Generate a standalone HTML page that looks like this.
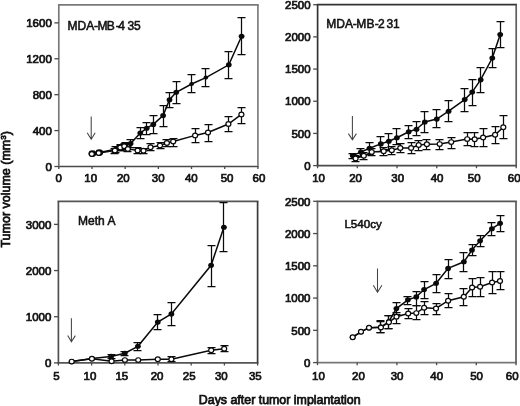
<!DOCTYPE html><html><head><meta charset="utf-8"><style>html,body{margin:0;padding:0;background:#fff;}svg{display:block;}text{font-family:"Liberation Sans", sans-serif;stroke:#111;stroke-width:0.75px;paint-order:stroke;}svg{will-change:transform;}</style></head><body>
<svg width="520" height="406" viewBox="0 0 520 406">
<rect width="520" height="406" fill="#fff"/>
<line x1="57.949999999999996" y1="4.9" x2="258.75" y2="4.9" stroke="#7a7a7a" stroke-width="1.7"/>
<line x1="57.949999999999996" y1="166.5" x2="258.75" y2="166.5" stroke="#4a4a4a" stroke-width="1.7"/>
<line x1="58.8" y1="4.9" x2="58.8" y2="166.5" stroke="#7a7a7a" stroke-width="1.7"/>
<line x1="257.9" y1="4.9" x2="257.9" y2="166.5" stroke="#7e7e7e" stroke-width="1.7"/>
<line x1="58.80" y1="166.5" x2="58.80" y2="169.10" stroke="#4a4a4a" stroke-width="1.3"/>
<text transform="translate(58.70,182.1) scale(0.958)" font-size="12" text-anchor="middle" fill="#111">0</text>
<line x1="91.98" y1="166.5" x2="91.98" y2="169.10" stroke="#4a4a4a" stroke-width="1.3"/>
<text transform="translate(90.68,182.1) scale(0.958)" font-size="12" text-anchor="middle" fill="#111">10</text>
<line x1="125.17" y1="166.5" x2="125.17" y2="169.10" stroke="#4a4a4a" stroke-width="1.3"/>
<text transform="translate(123.27,182.1) scale(0.958)" font-size="12" text-anchor="middle" fill="#111">20</text>
<line x1="158.35" y1="166.5" x2="158.35" y2="169.10" stroke="#4a4a4a" stroke-width="1.3"/>
<text transform="translate(158.15,182.1) scale(0.958)" font-size="12" text-anchor="middle" fill="#111">30</text>
<line x1="191.53" y1="166.5" x2="191.53" y2="169.10" stroke="#4a4a4a" stroke-width="1.3"/>
<text transform="translate(191.33,182.1) scale(0.958)" font-size="12" text-anchor="middle" fill="#111">40</text>
<line x1="224.72" y1="166.5" x2="224.72" y2="169.10" stroke="#4a4a4a" stroke-width="1.3"/>
<text transform="translate(227.02,182.1) scale(0.958)" font-size="12" text-anchor="middle" fill="#111">50</text>
<line x1="257.90" y1="166.5" x2="257.90" y2="169.10" stroke="#4a4a4a" stroke-width="1.3"/>
<text transform="translate(259.00,182.1) scale(0.958)" font-size="12" text-anchor="middle" fill="#111">60</text>
<line x1="54.40" y1="166.50" x2="58.8" y2="166.50" stroke="#4a4a4a" stroke-width="1.3"/>
<text transform="translate(51.80,170.70) scale(0.958)" font-size="12" text-anchor="end" fill="#111">0</text>
<line x1="54.40" y1="130.59" x2="58.8" y2="130.59" stroke="#4a4a4a" stroke-width="1.3"/>
<text transform="translate(51.80,134.79) scale(0.958)" font-size="12" text-anchor="end" fill="#111">400</text>
<line x1="54.40" y1="94.68" x2="58.8" y2="94.68" stroke="#4a4a4a" stroke-width="1.3"/>
<text transform="translate(51.80,98.88) scale(0.958)" font-size="12" text-anchor="end" fill="#111">800</text>
<line x1="54.40" y1="58.77" x2="58.8" y2="58.77" stroke="#4a4a4a" stroke-width="1.3"/>
<text transform="translate(51.80,62.97) scale(0.958)" font-size="12" text-anchor="end" fill="#111">1200</text>
<line x1="54.40" y1="22.86" x2="58.8" y2="22.86" stroke="#4a4a4a" stroke-width="1.3"/>
<text transform="translate(51.80,27.06) scale(0.958)" font-size="12" text-anchor="end" fill="#111">1600</text>
<text style="stroke-width:0.55px" x="67.6 77.6 86.3 94.0 97.4 106.8 115.7 118.3 127.4 134.0" y="29.6" font-size="12" fill="#111">MDA-MB-435</text>
<line x1="316.75" y1="4.7" x2="517.0500000000001" y2="4.7" stroke="#333333" stroke-width="1.7"/>
<line x1="316.75" y1="165.6" x2="517.0500000000001" y2="165.6" stroke="#4a4a4a" stroke-width="1.7"/>
<line x1="317.6" y1="4.7" x2="317.6" y2="165.6" stroke="#333333" stroke-width="1.7"/>
<line x1="516.2" y1="4.7" x2="516.2" y2="165.6" stroke="#5e5e5e" stroke-width="1.7"/>
<line x1="317.60" y1="165.6" x2="317.60" y2="168.20" stroke="#4a4a4a" stroke-width="1.3"/>
<text transform="translate(318.60,182.1) scale(0.958)" font-size="12" text-anchor="middle" fill="#111">10</text>
<line x1="357.32" y1="165.6" x2="357.32" y2="168.20" stroke="#4a4a4a" stroke-width="1.3"/>
<text transform="translate(355.52,182.1) scale(0.958)" font-size="12" text-anchor="middle" fill="#111">20</text>
<line x1="397.04" y1="165.6" x2="397.04" y2="168.20" stroke="#4a4a4a" stroke-width="1.3"/>
<text transform="translate(397.64,182.1) scale(0.958)" font-size="12" text-anchor="middle" fill="#111">30</text>
<line x1="436.76" y1="165.6" x2="436.76" y2="168.20" stroke="#4a4a4a" stroke-width="1.3"/>
<text transform="translate(437.06,182.1) scale(0.958)" font-size="12" text-anchor="middle" fill="#111">40</text>
<line x1="476.48" y1="165.6" x2="476.48" y2="168.20" stroke="#4a4a4a" stroke-width="1.3"/>
<text transform="translate(474.18,182.1) scale(0.958)" font-size="12" text-anchor="middle" fill="#111">50</text>
<line x1="516.20" y1="165.6" x2="516.20" y2="168.20" stroke="#4a4a4a" stroke-width="1.3"/>
<text transform="translate(514.20,182.1) scale(0.958)" font-size="12" text-anchor="middle" fill="#111">60</text>
<line x1="313.20" y1="165.60" x2="317.6" y2="165.60" stroke="#4a4a4a" stroke-width="1.3"/>
<text transform="translate(310.60,169.80) scale(0.958)" font-size="12" text-anchor="end" fill="#111">0</text>
<line x1="313.20" y1="133.42" x2="317.6" y2="133.42" stroke="#4a4a4a" stroke-width="1.3"/>
<text transform="translate(310.60,137.62) scale(0.958)" font-size="12" text-anchor="end" fill="#111">500</text>
<line x1="313.20" y1="101.24" x2="317.6" y2="101.24" stroke="#4a4a4a" stroke-width="1.3"/>
<text transform="translate(310.60,105.44) scale(0.958)" font-size="12" text-anchor="end" fill="#111">1000</text>
<line x1="313.20" y1="69.06" x2="317.6" y2="69.06" stroke="#4a4a4a" stroke-width="1.3"/>
<text transform="translate(310.60,73.26) scale(0.958)" font-size="12" text-anchor="end" fill="#111">1500</text>
<line x1="313.20" y1="36.88" x2="317.6" y2="36.88" stroke="#4a4a4a" stroke-width="1.3"/>
<text transform="translate(310.60,41.08) scale(0.958)" font-size="12" text-anchor="end" fill="#111">2000</text>
<line x1="313.20" y1="4.70" x2="317.6" y2="4.70" stroke="#4a4a4a" stroke-width="1.3"/>
<text transform="translate(310.60,8.90) scale(0.958)" font-size="12" text-anchor="end" fill="#111">2500</text>
<text style="stroke-width:0.55px" x="326.3 336.3 345.0 352.8 356.2 366.4 374.8 378.0 386.6 392.9" y="28" font-size="12" fill="#111">MDA-MB-231</text>
<line x1="57.55" y1="201.3" x2="258.45000000000005" y2="201.3" stroke="#555555" stroke-width="1.7"/>
<line x1="57.55" y1="362.9" x2="258.45000000000005" y2="362.9" stroke="#555555" stroke-width="1.7"/>
<line x1="58.4" y1="201.3" x2="58.4" y2="362.9" stroke="#505050" stroke-width="1.7"/>
<line x1="257.6" y1="201.3" x2="257.6" y2="362.9" stroke="#3a3a3a" stroke-width="1.7"/>
<line x1="58.40" y1="362.9" x2="58.40" y2="365.50" stroke="#4a4a4a" stroke-width="1.3"/>
<text transform="translate(56.40,379.7) scale(0.958)" font-size="12" text-anchor="middle" fill="#111">5</text>
<line x1="91.60" y1="362.9" x2="91.60" y2="365.50" stroke="#4a4a4a" stroke-width="1.3"/>
<text transform="translate(89.90,379.7) scale(0.958)" font-size="12" text-anchor="middle" fill="#111">10</text>
<line x1="124.80" y1="362.9" x2="124.80" y2="365.50" stroke="#4a4a4a" stroke-width="1.3"/>
<text transform="translate(121.80,379.7) scale(0.958)" font-size="12" text-anchor="middle" fill="#111">15</text>
<line x1="158.00" y1="362.9" x2="158.00" y2="365.50" stroke="#4a4a4a" stroke-width="1.3"/>
<text transform="translate(157.10,379.7) scale(0.958)" font-size="12" text-anchor="middle" fill="#111">20</text>
<line x1="191.20" y1="362.9" x2="191.20" y2="365.50" stroke="#4a4a4a" stroke-width="1.3"/>
<text transform="translate(189.20,379.7) scale(0.958)" font-size="12" text-anchor="middle" fill="#111">25</text>
<line x1="224.40" y1="362.9" x2="224.40" y2="365.50" stroke="#4a4a4a" stroke-width="1.3"/>
<text transform="translate(221.30,379.7) scale(0.958)" font-size="12" text-anchor="middle" fill="#111">30</text>
<line x1="257.60" y1="362.9" x2="257.60" y2="365.50" stroke="#4a4a4a" stroke-width="1.3"/>
<text transform="translate(255.30,379.7) scale(0.958)" font-size="12" text-anchor="middle" fill="#111">35</text>
<line x1="54.00" y1="362.90" x2="58.4" y2="362.90" stroke="#4a4a4a" stroke-width="1.3"/>
<text transform="translate(51.40,367.10) scale(0.958)" font-size="12" text-anchor="end" fill="#111">0</text>
<line x1="54.00" y1="316.73" x2="58.4" y2="316.73" stroke="#4a4a4a" stroke-width="1.3"/>
<text transform="translate(51.40,320.93) scale(0.958)" font-size="12" text-anchor="end" fill="#111">1000</text>
<line x1="54.00" y1="270.56" x2="58.4" y2="270.56" stroke="#4a4a4a" stroke-width="1.3"/>
<text transform="translate(51.40,274.76) scale(0.958)" font-size="12" text-anchor="end" fill="#111">2000</text>
<line x1="54.00" y1="224.39" x2="58.4" y2="224.39" stroke="#4a4a4a" stroke-width="1.3"/>
<text transform="translate(51.40,228.59) scale(0.958)" font-size="12" text-anchor="end" fill="#111">3000</text>
<text style="stroke-width:0.55px" x="78.1" y="225" font-size="12" fill="#111">Meth A</text>
<line x1="316.65" y1="201.3" x2="516.85" y2="201.3" stroke="#555555" stroke-width="1.7"/>
<line x1="316.65" y1="362.6" x2="516.85" y2="362.6" stroke="#777777" stroke-width="1.7"/>
<line x1="317.5" y1="201.3" x2="317.5" y2="362.6" stroke="#666666" stroke-width="1.7"/>
<line x1="516.0" y1="201.3" x2="516.0" y2="362.6" stroke="#5a5a5a" stroke-width="1.7"/>
<line x1="317.50" y1="362.6" x2="317.50" y2="365.20" stroke="#4a4a4a" stroke-width="1.3"/>
<text transform="translate(318.50,379.7) scale(0.958)" font-size="12" text-anchor="middle" fill="#111">10</text>
<line x1="357.20" y1="362.6" x2="357.20" y2="365.20" stroke="#4a4a4a" stroke-width="1.3"/>
<text transform="translate(358.50,379.7) scale(0.958)" font-size="12" text-anchor="middle" fill="#111">20</text>
<line x1="396.90" y1="362.6" x2="396.90" y2="365.20" stroke="#4a4a4a" stroke-width="1.3"/>
<text transform="translate(397.10,379.7) scale(0.958)" font-size="12" text-anchor="middle" fill="#111">30</text>
<line x1="436.60" y1="362.6" x2="436.60" y2="365.20" stroke="#4a4a4a" stroke-width="1.3"/>
<text transform="translate(436.70,379.7) scale(0.958)" font-size="12" text-anchor="middle" fill="#111">40</text>
<line x1="476.30" y1="362.6" x2="476.30" y2="365.20" stroke="#4a4a4a" stroke-width="1.3"/>
<text transform="translate(476.60,379.7) scale(0.958)" font-size="12" text-anchor="middle" fill="#111">50</text>
<line x1="516.00" y1="362.6" x2="516.00" y2="365.20" stroke="#4a4a4a" stroke-width="1.3"/>
<text transform="translate(512.20,379.7) scale(0.958)" font-size="12" text-anchor="middle" fill="#111">60</text>
<line x1="313.10" y1="362.60" x2="317.5" y2="362.60" stroke="#4a4a4a" stroke-width="1.3"/>
<text transform="translate(310.50,366.80) scale(0.958)" font-size="12" text-anchor="end" fill="#111">0</text>
<line x1="313.10" y1="330.34" x2="317.5" y2="330.34" stroke="#4a4a4a" stroke-width="1.3"/>
<text transform="translate(310.50,334.54) scale(0.958)" font-size="12" text-anchor="end" fill="#111">500</text>
<line x1="313.10" y1="298.08" x2="317.5" y2="298.08" stroke="#4a4a4a" stroke-width="1.3"/>
<text transform="translate(310.50,302.28) scale(0.958)" font-size="12" text-anchor="end" fill="#111">1000</text>
<line x1="313.10" y1="265.82" x2="317.5" y2="265.82" stroke="#4a4a4a" stroke-width="1.3"/>
<text transform="translate(310.50,270.02) scale(0.958)" font-size="12" text-anchor="end" fill="#111">1500</text>
<line x1="313.10" y1="233.56" x2="317.5" y2="233.56" stroke="#4a4a4a" stroke-width="1.3"/>
<text transform="translate(310.50,237.76) scale(0.958)" font-size="12" text-anchor="end" fill="#111">2000</text>
<line x1="313.10" y1="201.30" x2="317.5" y2="201.30" stroke="#4a4a4a" stroke-width="1.3"/>
<text transform="translate(310.50,205.50) scale(0.958)" font-size="12" text-anchor="end" fill="#111">2500</text>
<text style="stroke-width:0.55px" x="344.4" y="227.7" font-size="11.6" fill="#111">L540cy</text>
<polyline fill="none" stroke="#0a0a0a" stroke-width="1.5" points="92.4,153.6 99.3,152.6 115.8,149.3 120.8,147.0 125.2,145.8 130.6,143.5 140.3,133.1 146.7,128.2 153.3,124.4 163.1,115.5 169.5,99.7 176.2,92.3 191.6,84.0 205.9,77.6 228.8,64.8 241.6,36.2"/>
<polyline fill="none" stroke="#0a0a0a" stroke-width="1.5" points="91.8,154.0 98.7,153.0 114.9,150.5 120.3,147.6 124.3,146.3 127.9,148.9 137.6,150.5 143.5,150.7 150.5,147.2 160.0,145.5 166.9,143.0 173.2,141.5 195.1,135.4 208.0,132.5 228.4,124.0 241.4,114.4"/>
<ellipse cx="92.4" cy="153.6" rx="3.9" ry="3.4" fill="#0a0a0a"/>
<ellipse cx="99.3" cy="152.6" rx="3.9" ry="3.4" fill="#0a0a0a"/>
<path d="M115.5 146.5V152.5M111.5 146.5H119.5M111.5 152.5H119.5" stroke="#0a0a0a" stroke-width="1.25" fill="none"/>
<path d="M120.5 144.5V150.5M116.5 144.5H124.5M116.5 150.5H124.5" stroke="#0a0a0a" stroke-width="1.25" fill="none"/>
<path d="M125.5 142.5V149.5M121.5 142.5H129.5M121.5 149.5H129.5" stroke="#0a0a0a" stroke-width="1.25" fill="none"/>
<path d="M130.5 139.5V147.5M126.5 139.5H134.5M126.5 147.5H134.5" stroke="#0a0a0a" stroke-width="1.25" fill="none"/>
<path d="M140.5 127.5V138.5M136.5 127.5H144.5M136.5 138.5H144.5" stroke="#0a0a0a" stroke-width="1.25" fill="none"/>
<path d="M146.5 122.5V134.5M142.5 122.5H150.5M142.5 134.5H150.5" stroke="#0a0a0a" stroke-width="1.25" fill="none"/>
<path d="M153.5 115.5V133.5M149.5 115.5H157.5M149.5 133.5H157.5" stroke="#0a0a0a" stroke-width="1.25" fill="none"/>
<path d="M163.5 105.5V126.5M159.5 105.5H167.5M159.5 126.5H167.5" stroke="#0a0a0a" stroke-width="1.25" fill="none"/>
<path d="M169.5 92.5V107.5M165.5 92.5H173.5M165.5 107.5H173.5" stroke="#0a0a0a" stroke-width="1.25" fill="none"/>
<path d="M176.5 81.5V103.5M172.5 81.5H180.5M172.5 103.5H180.5" stroke="#0a0a0a" stroke-width="1.25" fill="none"/>
<path d="M191.5 74.5V92.5M187.5 74.5H195.5M187.5 92.5H195.5" stroke="#0a0a0a" stroke-width="1.25" fill="none"/>
<path d="M205.5 68.5V86.5M201.5 68.5H209.5M201.5 86.5H209.5" stroke="#0a0a0a" stroke-width="1.25" fill="none"/>
<path d="M228.5 51.5V78.5M224.5 51.5H232.5M224.5 78.5H232.5" stroke="#0a0a0a" stroke-width="1.25" fill="none"/>
<path d="M241.5 17.5V54.5M237.5 17.5H245.5M237.5 54.5H245.5" stroke="#0a0a0a" stroke-width="1.25" fill="none"/>
<path d="M114.5 148.5V153.5M110.5 148.5H118.5M110.5 153.5H118.5" stroke="#0a0a0a" stroke-width="1.25" fill="none"/>
<path d="M120.5 145.5V150.5M116.5 145.5H124.5M116.5 150.5H124.5" stroke="#0a0a0a" stroke-width="1.25" fill="none"/>
<path d="M124.5 143.5V149.5M120.5 143.5H128.5M120.5 149.5H128.5" stroke="#0a0a0a" stroke-width="1.25" fill="none"/>
<path d="M127.5 146.5V151.5M123.5 146.5H131.5M123.5 151.5H131.5" stroke="#0a0a0a" stroke-width="1.25" fill="none"/>
<path d="M137.5 147.5V153.5M133.5 147.5H141.5M133.5 153.5H141.5" stroke="#0a0a0a" stroke-width="1.25" fill="none"/>
<path d="M143.5 148.5V153.5M139.5 148.5H147.5M139.5 153.5H147.5" stroke="#0a0a0a" stroke-width="1.25" fill="none"/>
<path d="M150.5 143.5V150.5M146.5 143.5H154.5M146.5 150.5H154.5" stroke="#0a0a0a" stroke-width="1.25" fill="none"/>
<path d="M160.5 142.5V148.5M156.5 142.5H164.5M156.5 148.5H164.5" stroke="#0a0a0a" stroke-width="1.25" fill="none"/>
<path d="M166.5 139.5V146.5M162.5 139.5H170.5M162.5 146.5H170.5" stroke="#0a0a0a" stroke-width="1.25" fill="none"/>
<path d="M173.5 138.5V146.5M169.5 138.5H177.5M169.5 146.5H177.5" stroke="#0a0a0a" stroke-width="1.25" fill="none"/>
<path d="M195.5 128.5V142.5M191.5 128.5H199.5M191.5 142.5H199.5" stroke="#0a0a0a" stroke-width="1.25" fill="none"/>
<path d="M208.5 124.5V141.5M204.5 124.5H212.5M204.5 141.5H212.5" stroke="#0a0a0a" stroke-width="1.25" fill="none"/>
<path d="M228.5 116.5V131.5M224.5 116.5H232.5M224.5 131.5H232.5" stroke="#0a0a0a" stroke-width="1.25" fill="none"/>
<path d="M241.5 107.5V123.5M237.5 107.5H245.5M237.5 123.5H245.5" stroke="#0a0a0a" stroke-width="1.25" fill="none"/>
<ellipse cx="92.4" cy="153.6" rx="2.90" ry="2.55" fill="#0a0a0a"/>
<ellipse cx="99.3" cy="152.6" rx="2.90" ry="2.55" fill="#0a0a0a"/>
<ellipse cx="115.8" cy="149.3" rx="2.90" ry="2.55" fill="#0a0a0a"/>
<ellipse cx="120.8" cy="147.0" rx="2.90" ry="2.55" fill="#0a0a0a"/>
<ellipse cx="125.2" cy="145.8" rx="2.90" ry="2.55" fill="#0a0a0a"/>
<ellipse cx="130.6" cy="143.5" rx="2.90" ry="2.55" fill="#0a0a0a"/>
<ellipse cx="140.3" cy="133.1" rx="2.90" ry="2.55" fill="#0a0a0a"/>
<ellipse cx="146.7" cy="128.2" rx="2.90" ry="2.55" fill="#0a0a0a"/>
<ellipse cx="153.3" cy="124.4" rx="2.90" ry="2.55" fill="#0a0a0a"/>
<ellipse cx="163.1" cy="115.5" rx="2.90" ry="2.55" fill="#0a0a0a"/>
<ellipse cx="169.5" cy="99.7" rx="2.90" ry="2.55" fill="#0a0a0a"/>
<ellipse cx="176.2" cy="92.3" rx="2.90" ry="2.55" fill="#0a0a0a"/>
<ellipse cx="191.6" cy="84.0" rx="2.38" ry="2.09" fill="#0a0a0a"/>
<ellipse cx="205.9" cy="77.6" rx="2.32" ry="2.04" fill="#0a0a0a"/>
<ellipse cx="228.8" cy="64.8" rx="2.90" ry="2.55" fill="#0a0a0a"/>
<ellipse cx="241.6" cy="36.2" rx="2.90" ry="2.55" fill="#0a0a0a"/>
<ellipse cx="91.8" cy="154.0" rx="2.5" ry="2.35" fill="#fff" stroke="#0a0a0a" stroke-width="1.2"/>
<ellipse cx="98.7" cy="153.0" rx="2.5" ry="2.35" fill="#fff" stroke="#0a0a0a" stroke-width="1.2"/>
<ellipse cx="114.9" cy="150.5" rx="2.5" ry="2.35" fill="#fff" stroke="#0a0a0a" stroke-width="1.2"/>
<ellipse cx="120.3" cy="147.6" rx="2.5" ry="2.35" fill="#fff" stroke="#0a0a0a" stroke-width="1.2"/>
<ellipse cx="124.3" cy="146.3" rx="2.5" ry="2.35" fill="#fff" stroke="#0a0a0a" stroke-width="1.2"/>
<ellipse cx="127.9" cy="148.9" rx="2.5" ry="2.35" fill="#fff" stroke="#0a0a0a" stroke-width="1.2"/>
<ellipse cx="137.6" cy="150.5" rx="2.5" ry="2.35" fill="#fff" stroke="#0a0a0a" stroke-width="1.2"/>
<ellipse cx="143.5" cy="150.7" rx="2.5" ry="2.35" fill="#fff" stroke="#0a0a0a" stroke-width="1.2"/>
<ellipse cx="150.5" cy="147.2" rx="2.5" ry="2.35" fill="#fff" stroke="#0a0a0a" stroke-width="1.2"/>
<ellipse cx="160.0" cy="145.5" rx="2.5" ry="2.35" fill="#fff" stroke="#0a0a0a" stroke-width="1.2"/>
<ellipse cx="166.9" cy="143.0" rx="2.5" ry="2.35" fill="#fff" stroke="#0a0a0a" stroke-width="1.2"/>
<ellipse cx="173.2" cy="141.5" rx="2.5" ry="2.35" fill="#fff" stroke="#0a0a0a" stroke-width="1.2"/>
<ellipse cx="195.1" cy="135.4" rx="2.5" ry="2.35" fill="#fff" stroke="#0a0a0a" stroke-width="1.2"/>
<ellipse cx="208.0" cy="132.5" rx="2.5" ry="2.35" fill="#fff" stroke="#0a0a0a" stroke-width="1.2"/>
<ellipse cx="228.4" cy="124.0" rx="2.5" ry="2.35" fill="#fff" stroke="#0a0a0a" stroke-width="1.2"/>
<ellipse cx="241.4" cy="114.4" rx="2.5" ry="2.35" fill="#fff" stroke="#0a0a0a" stroke-width="1.2"/>
<polyline fill="none" stroke="#0a0a0a" stroke-width="1.5" points="352.7,155.5 360.9,152.1 369.5,148.3 380.8,143.9 388.8,141.3 396.9,137.7 408.7,131.8 416.5,129.2 424.8,122.0 436.8,119.1 448.6,111.2 464.7,99.6 472.2,92.1 480.7,79.7 492.3,58.0 500.2,34.5"/>
<polyline fill="none" stroke="#0a0a0a" stroke-width="1.5" points="355.6,158.4 363.8,155.8 371.7,151.9 383.7,151.2 391.8,150.2 400.3,148.0 411.1,148.0 418.7,145.0 426.9,144.2 439.7,144.1 451.2,142.1 467.2,139.1 474.7,139.3 483.1,137.4 495.1,134.7 503.3,127.3"/>
<path d="M352.5 153.5V158.5M348.5 153.5H356.5M348.5 158.5H356.5" stroke="#0a0a0a" stroke-width="1.25" fill="none"/>
<path d="M360.5 148.5V156.5M356.5 148.5H364.5M356.5 156.5H364.5" stroke="#0a0a0a" stroke-width="1.25" fill="none"/>
<path d="M369.5 142.5V154.5M365.5 142.5H373.5M365.5 154.5H373.5" stroke="#0a0a0a" stroke-width="1.25" fill="none"/>
<path d="M380.5 136.5V151.5M376.5 136.5H384.5M376.5 151.5H384.5" stroke="#0a0a0a" stroke-width="1.25" fill="none"/>
<path d="M388.5 133.5V149.5M384.5 133.5H392.5M384.5 149.5H392.5" stroke="#0a0a0a" stroke-width="1.25" fill="none"/>
<path d="M396.5 128.5V144.5M392.5 128.5H400.5M392.5 144.5H400.5" stroke="#0a0a0a" stroke-width="1.25" fill="none"/>
<path d="M408.5 125.5V138.5M404.5 125.5H412.5M404.5 138.5H412.5" stroke="#0a0a0a" stroke-width="1.25" fill="none"/>
<path d="M416.5 121.5V135.5M412.5 121.5H420.5M412.5 135.5H420.5" stroke="#0a0a0a" stroke-width="1.25" fill="none"/>
<path d="M424.5 111.5V132.5M420.5 111.5H428.5M420.5 132.5H428.5" stroke="#0a0a0a" stroke-width="1.25" fill="none"/>
<path d="M436.5 109.5V127.5M432.5 109.5H440.5M432.5 127.5H440.5" stroke="#0a0a0a" stroke-width="1.25" fill="none"/>
<path d="M448.5 100.5V121.5M444.5 100.5H452.5M444.5 121.5H452.5" stroke="#0a0a0a" stroke-width="1.25" fill="none"/>
<path d="M464.5 88.5V111.5M460.5 88.5H468.5M460.5 111.5H468.5" stroke="#0a0a0a" stroke-width="1.25" fill="none"/>
<path d="M472.5 79.5V105.5M468.5 79.5H476.5M468.5 105.5H476.5" stroke="#0a0a0a" stroke-width="1.25" fill="none"/>
<path d="M480.5 67.5V92.5M476.5 67.5H484.5M476.5 92.5H484.5" stroke="#0a0a0a" stroke-width="1.25" fill="none"/>
<path d="M492.5 48.5V67.5M488.5 48.5H496.5M488.5 67.5H496.5" stroke="#0a0a0a" stroke-width="1.25" fill="none"/>
<path d="M500.5 21.5V47.5M496.5 21.5H504.5M496.5 47.5H504.5" stroke="#0a0a0a" stroke-width="1.25" fill="none"/>
<path d="M355.5 155.5V161.5M351.5 155.5H359.5M351.5 161.5H359.5" stroke="#0a0a0a" stroke-width="1.25" fill="none"/>
<path d="M363.5 152.5V159.5M359.5 152.5H367.5M359.5 159.5H367.5" stroke="#0a0a0a" stroke-width="1.25" fill="none"/>
<path d="M371.5 148.5V155.5M367.5 148.5H375.5M367.5 155.5H375.5" stroke="#0a0a0a" stroke-width="1.25" fill="none"/>
<path d="M383.5 147.5V155.5M379.5 147.5H387.5M379.5 155.5H387.5" stroke="#0a0a0a" stroke-width="1.25" fill="none"/>
<path d="M391.5 146.5V154.5M387.5 146.5H395.5M387.5 154.5H395.5" stroke="#0a0a0a" stroke-width="1.25" fill="none"/>
<path d="M400.5 143.5V152.5M396.5 143.5H404.5M396.5 152.5H404.5" stroke="#0a0a0a" stroke-width="1.25" fill="none"/>
<path d="M411.5 142.5V153.5M407.5 142.5H415.5M407.5 153.5H415.5" stroke="#0a0a0a" stroke-width="1.25" fill="none"/>
<path d="M418.5 140.5V150.5M414.5 140.5H422.5M414.5 150.5H422.5" stroke="#0a0a0a" stroke-width="1.25" fill="none"/>
<path d="M426.5 139.5V149.5M422.5 139.5H430.5M422.5 149.5H430.5" stroke="#0a0a0a" stroke-width="1.25" fill="none"/>
<path d="M439.5 139.5V149.5M435.5 139.5H443.5M435.5 149.5H443.5" stroke="#0a0a0a" stroke-width="1.25" fill="none"/>
<path d="M451.5 137.5V148.5M447.5 137.5H455.5M447.5 148.5H455.5" stroke="#0a0a0a" stroke-width="1.25" fill="none"/>
<path d="M467.5 132.5V145.5M463.5 132.5H471.5M463.5 145.5H471.5" stroke="#0a0a0a" stroke-width="1.25" fill="none"/>
<path d="M474.5 132.5V146.5M470.5 132.5H478.5M470.5 146.5H478.5" stroke="#0a0a0a" stroke-width="1.25" fill="none"/>
<path d="M483.5 128.5V146.5M479.5 128.5H487.5M479.5 146.5H487.5" stroke="#0a0a0a" stroke-width="1.25" fill="none"/>
<path d="M495.5 126.5V143.5M491.5 126.5H499.5M491.5 143.5H499.5" stroke="#0a0a0a" stroke-width="1.25" fill="none"/>
<path d="M503.5 115.5V138.5M499.5 115.5H507.5M499.5 138.5H507.5" stroke="#0a0a0a" stroke-width="1.25" fill="none"/>
<ellipse cx="352.7" cy="155.5" rx="2.90" ry="2.55" fill="#0a0a0a"/>
<ellipse cx="360.9" cy="152.1" rx="2.90" ry="2.55" fill="#0a0a0a"/>
<ellipse cx="369.5" cy="148.3" rx="2.90" ry="2.55" fill="#0a0a0a"/>
<ellipse cx="380.8" cy="143.9" rx="2.90" ry="2.55" fill="#0a0a0a"/>
<ellipse cx="388.8" cy="141.3" rx="2.90" ry="2.55" fill="#0a0a0a"/>
<ellipse cx="396.9" cy="137.7" rx="2.90" ry="2.55" fill="#0a0a0a"/>
<ellipse cx="408.7" cy="131.8" rx="2.90" ry="2.55" fill="#0a0a0a"/>
<ellipse cx="416.5" cy="129.2" rx="2.90" ry="2.55" fill="#0a0a0a"/>
<ellipse cx="424.8" cy="122.0" rx="2.90" ry="2.55" fill="#0a0a0a"/>
<ellipse cx="436.8" cy="119.1" rx="2.90" ry="2.55" fill="#0a0a0a"/>
<ellipse cx="448.6" cy="111.2" rx="2.90" ry="2.55" fill="#0a0a0a"/>
<ellipse cx="464.7" cy="99.6" rx="2.90" ry="2.55" fill="#0a0a0a"/>
<ellipse cx="472.2" cy="92.1" rx="2.90" ry="2.55" fill="#0a0a0a"/>
<ellipse cx="480.7" cy="79.7" rx="2.90" ry="2.55" fill="#0a0a0a"/>
<ellipse cx="492.3" cy="58.0" rx="2.90" ry="2.55" fill="#0a0a0a"/>
<ellipse cx="500.2" cy="34.5" rx="2.90" ry="2.55" fill="#0a0a0a"/>
<ellipse cx="355.6" cy="158.4" rx="2.5" ry="2.35" fill="#fff" stroke="#0a0a0a" stroke-width="1.2"/>
<ellipse cx="363.8" cy="155.8" rx="2.5" ry="2.35" fill="#fff" stroke="#0a0a0a" stroke-width="1.2"/>
<ellipse cx="371.7" cy="151.9" rx="2.5" ry="2.35" fill="#fff" stroke="#0a0a0a" stroke-width="1.2"/>
<ellipse cx="383.7" cy="151.2" rx="2.5" ry="2.35" fill="#fff" stroke="#0a0a0a" stroke-width="1.2"/>
<ellipse cx="391.8" cy="150.2" rx="2.5" ry="2.35" fill="#fff" stroke="#0a0a0a" stroke-width="1.2"/>
<ellipse cx="400.3" cy="148.0" rx="2.5" ry="2.35" fill="#fff" stroke="#0a0a0a" stroke-width="1.2"/>
<ellipse cx="411.1" cy="148.0" rx="2.5" ry="2.35" fill="#fff" stroke="#0a0a0a" stroke-width="1.2"/>
<ellipse cx="418.7" cy="145.0" rx="2.5" ry="2.35" fill="#fff" stroke="#0a0a0a" stroke-width="1.2"/>
<ellipse cx="426.9" cy="144.2" rx="2.5" ry="2.35" fill="#fff" stroke="#0a0a0a" stroke-width="1.2"/>
<ellipse cx="439.7" cy="144.1" rx="2.5" ry="2.35" fill="#fff" stroke="#0a0a0a" stroke-width="1.2"/>
<ellipse cx="451.2" cy="142.1" rx="2.5" ry="2.35" fill="#fff" stroke="#0a0a0a" stroke-width="1.2"/>
<ellipse cx="467.2" cy="139.1" rx="2.5" ry="2.35" fill="#fff" stroke="#0a0a0a" stroke-width="1.2"/>
<ellipse cx="474.7" cy="139.3" rx="2.5" ry="2.35" fill="#fff" stroke="#0a0a0a" stroke-width="1.2"/>
<ellipse cx="483.1" cy="137.4" rx="2.5" ry="2.35" fill="#fff" stroke="#0a0a0a" stroke-width="1.2"/>
<ellipse cx="495.1" cy="134.7" rx="2.5" ry="2.35" fill="#fff" stroke="#0a0a0a" stroke-width="1.2"/>
<ellipse cx="503.3" cy="127.3" rx="2.5" ry="2.35" fill="#fff" stroke="#0a0a0a" stroke-width="1.2"/>
<polyline fill="none" stroke="#0a0a0a" stroke-width="1.5" points="71.7,361.6 91.9,358.6 111.1,356.4 124.8,353.2 137.9,346.3 157.8,322.1 171.4,313.9 211.1,265.3 223.9,227.2"/>
<polyline fill="none" stroke="#0a0a0a" stroke-width="1.5" points="71.7,361.6 91.9,358.8 111.6,361.3 124.9,360.1 138.2,360.1 157.8,359.2 171.4,359.2 211.2,350.2 224.2,348.7"/>
<path d="M111.5 354.5V358.5M107.5 354.5H115.5M107.5 358.5H115.5" stroke="#0a0a0a" stroke-width="1.25" fill="none"/>
<path d="M124.5 351.5V355.5M120.5 351.5H128.5M120.5 355.5H128.5" stroke="#0a0a0a" stroke-width="1.25" fill="none"/>
<path d="M137.5 342.5V350.5M133.5 342.5H141.5M133.5 350.5H141.5" stroke="#0a0a0a" stroke-width="1.25" fill="none"/>
<path d="M157.5 314.5V329.5M153.5 314.5H161.5M153.5 329.5H161.5" stroke="#0a0a0a" stroke-width="1.25" fill="none"/>
<path d="M171.5 302.5V325.5M167.5 302.5H175.5M167.5 325.5H175.5" stroke="#0a0a0a" stroke-width="1.25" fill="none"/>
<path d="M211.5 245.5V286.5M207.5 245.5H215.5M207.5 286.5H215.5" stroke="#0a0a0a" stroke-width="1.25" fill="none"/>
<path d="M223.5 202.5V251.5M219.5 202.5H227.5M219.5 251.5H227.5" stroke="#0a0a0a" stroke-width="1.25" fill="none"/>
<path d="M171.5 356.5V361.5M167.5 356.5H175.5M167.5 361.5H175.5" stroke="#0a0a0a" stroke-width="1.25" fill="none"/>
<path d="M211.5 347.5V353.5M207.5 347.5H215.5M207.5 353.5H215.5" stroke="#0a0a0a" stroke-width="1.25" fill="none"/>
<path d="M224.5 345.5V351.5M220.5 345.5H228.5M220.5 351.5H228.5" stroke="#0a0a0a" stroke-width="1.25" fill="none"/>
<ellipse cx="71.7" cy="361.6" rx="2.90" ry="2.55" fill="#0a0a0a"/>
<ellipse cx="91.9" cy="358.6" rx="2.90" ry="2.55" fill="#0a0a0a"/>
<ellipse cx="111.1" cy="356.4" rx="2.90" ry="2.55" fill="#0a0a0a"/>
<ellipse cx="124.8" cy="353.2" rx="2.90" ry="2.55" fill="#0a0a0a"/>
<ellipse cx="137.9" cy="346.3" rx="2.90" ry="2.55" fill="#0a0a0a"/>
<ellipse cx="157.8" cy="322.1" rx="2.90" ry="2.55" fill="#0a0a0a"/>
<ellipse cx="171.4" cy="313.9" rx="2.90" ry="2.55" fill="#0a0a0a"/>
<ellipse cx="211.1" cy="265.3" rx="2.90" ry="2.55" fill="#0a0a0a"/>
<ellipse cx="223.9" cy="227.2" rx="2.90" ry="2.55" fill="#0a0a0a"/>
<ellipse cx="71.7" cy="361.6" rx="2.5" ry="2.35" fill="#fff" stroke="#0a0a0a" stroke-width="1.2"/>
<ellipse cx="91.9" cy="358.8" rx="2.5" ry="2.35" fill="#fff" stroke="#0a0a0a" stroke-width="1.2"/>
<ellipse cx="111.6" cy="361.3" rx="2.5" ry="2.35" fill="#fff" stroke="#0a0a0a" stroke-width="1.2"/>
<ellipse cx="124.9" cy="360.1" rx="2.5" ry="2.35" fill="#fff" stroke="#0a0a0a" stroke-width="1.2"/>
<ellipse cx="138.2" cy="360.1" rx="2.5" ry="2.35" fill="#fff" stroke="#0a0a0a" stroke-width="1.2"/>
<ellipse cx="157.8" cy="359.2" rx="2.5" ry="2.35" fill="#fff" stroke="#0a0a0a" stroke-width="1.2"/>
<ellipse cx="171.4" cy="359.2" rx="2.5" ry="2.35" fill="#fff" stroke="#0a0a0a" stroke-width="1.2"/>
<ellipse cx="211.2" cy="350.2" rx="2.5" ry="2.35" fill="#fff" stroke="#0a0a0a" stroke-width="1.2"/>
<ellipse cx="224.2" cy="348.7" rx="2.5" ry="2.35" fill="#fff" stroke="#0a0a0a" stroke-width="1.2"/>
<polyline fill="none" stroke="#0a0a0a" stroke-width="1.5" points="352.7,337.2 361.0,331.8 369.0,327.7 380.9,327.0 388.9,321.5 396.4,308.6 407.9,299.8 416.3,296.9 424.1,289.5 436.1,283.3 448.1,268.4 463.9,261.8 472.0,250.0 480.1,240.8 491.9,228.7 500.1,223.3"/>
<polyline fill="none" stroke="#0a0a0a" stroke-width="1.5" points="352.7,337.2 361.0,331.8 369.0,327.7 380.9,327.5 388.9,322.2 396.5,316.8 408.2,313.5 416.3,313.1 424.1,307.7 436.0,308.5 448.1,300.7 463.8,296.8 472.1,287.5 480.1,286.7 492.1,282.5 500.0,281.0"/>
<path d="M380.5 320.5V332.5M376.5 320.5H384.5M376.5 332.5H384.5" stroke="#0a0a0a" stroke-width="1.25" fill="none"/>
<path d="M388.5 315.5V328.5M384.5 315.5H392.5M384.5 328.5H392.5" stroke="#0a0a0a" stroke-width="1.25" fill="none"/>
<path d="M396.5 302.5V314.5M392.5 302.5H400.5M392.5 314.5H400.5" stroke="#0a0a0a" stroke-width="1.25" fill="none"/>
<path d="M407.5 296.5V304.5M403.5 296.5H411.5M403.5 304.5H411.5" stroke="#0a0a0a" stroke-width="1.25" fill="none"/>
<path d="M416.5 291.5V305.5M412.5 291.5H420.5M412.5 305.5H420.5" stroke="#0a0a0a" stroke-width="1.25" fill="none"/>
<path d="M424.5 281.5V298.5M420.5 281.5H428.5M420.5 298.5H428.5" stroke="#0a0a0a" stroke-width="1.25" fill="none"/>
<path d="M436.5 274.5V292.5M432.5 274.5H440.5M432.5 292.5H440.5" stroke="#0a0a0a" stroke-width="1.25" fill="none"/>
<path d="M448.5 259.5V278.5M444.5 259.5H452.5M444.5 278.5H452.5" stroke="#0a0a0a" stroke-width="1.25" fill="none"/>
<path d="M463.5 252.5V271.5M459.5 252.5H467.5M459.5 271.5H467.5" stroke="#0a0a0a" stroke-width="1.25" fill="none"/>
<path d="M472.5 244.5V255.5M468.5 244.5H476.5M468.5 255.5H476.5" stroke="#0a0a0a" stroke-width="1.25" fill="none"/>
<path d="M480.5 235.5V246.5M476.5 235.5H484.5M476.5 246.5H484.5" stroke="#0a0a0a" stroke-width="1.25" fill="none"/>
<path d="M491.5 222.5V235.5M487.5 222.5H495.5M487.5 235.5H495.5" stroke="#0a0a0a" stroke-width="1.25" fill="none"/>
<path d="M500.5 215.5V231.5M496.5 215.5H504.5M496.5 231.5H504.5" stroke="#0a0a0a" stroke-width="1.25" fill="none"/>
<path d="M380.5 321.5V332.5M376.5 321.5H384.5M376.5 332.5H384.5" stroke="#0a0a0a" stroke-width="1.25" fill="none"/>
<path d="M388.5 315.5V328.5M384.5 315.5H392.5M384.5 328.5H392.5" stroke="#0a0a0a" stroke-width="1.25" fill="none"/>
<path d="M396.5 312.5V323.5M392.5 312.5H400.5M392.5 323.5H400.5" stroke="#0a0a0a" stroke-width="1.25" fill="none"/>
<path d="M408.5 308.5V318.5M404.5 308.5H412.5M404.5 318.5H412.5" stroke="#0a0a0a" stroke-width="1.25" fill="none"/>
<path d="M416.5 305.5V319.5M412.5 305.5H420.5M412.5 319.5H420.5" stroke="#0a0a0a" stroke-width="1.25" fill="none"/>
<path d="M424.5 301.5V314.5M420.5 301.5H428.5M420.5 314.5H428.5" stroke="#0a0a0a" stroke-width="1.25" fill="none"/>
<path d="M436.5 303.5V314.5M432.5 303.5H440.5M432.5 314.5H440.5" stroke="#0a0a0a" stroke-width="1.25" fill="none"/>
<path d="M448.5 293.5V307.5M444.5 293.5H452.5M444.5 307.5H452.5" stroke="#0a0a0a" stroke-width="1.25" fill="none"/>
<path d="M463.5 288.5V305.5M459.5 288.5H467.5M459.5 305.5H467.5" stroke="#0a0a0a" stroke-width="1.25" fill="none"/>
<path d="M472.5 278.5V296.5M468.5 278.5H476.5M468.5 296.5H476.5" stroke="#0a0a0a" stroke-width="1.25" fill="none"/>
<path d="M480.5 277.5V296.5M476.5 277.5H484.5M476.5 296.5H484.5" stroke="#0a0a0a" stroke-width="1.25" fill="none"/>
<path d="M492.5 271.5V293.5M488.5 271.5H496.5M488.5 293.5H496.5" stroke="#0a0a0a" stroke-width="1.25" fill="none"/>
<path d="M500.5 271.5V289.5M496.5 271.5H504.5M496.5 289.5H504.5" stroke="#0a0a0a" stroke-width="1.25" fill="none"/>
<ellipse cx="352.7" cy="337.2" rx="2.90" ry="2.55" fill="#0a0a0a"/>
<ellipse cx="361.0" cy="331.8" rx="2.90" ry="2.55" fill="#0a0a0a"/>
<ellipse cx="369.0" cy="327.7" rx="2.90" ry="2.55" fill="#0a0a0a"/>
<ellipse cx="380.9" cy="327.0" rx="2.90" ry="2.55" fill="#0a0a0a"/>
<ellipse cx="388.9" cy="321.5" rx="2.90" ry="2.55" fill="#0a0a0a"/>
<ellipse cx="396.4" cy="308.6" rx="2.90" ry="2.55" fill="#0a0a0a"/>
<ellipse cx="407.9" cy="299.8" rx="2.90" ry="2.55" fill="#0a0a0a"/>
<ellipse cx="416.3" cy="296.9" rx="2.90" ry="2.55" fill="#0a0a0a"/>
<ellipse cx="424.1" cy="289.5" rx="2.90" ry="2.55" fill="#0a0a0a"/>
<ellipse cx="436.1" cy="283.3" rx="2.90" ry="2.55" fill="#0a0a0a"/>
<ellipse cx="448.1" cy="268.4" rx="2.90" ry="2.55" fill="#0a0a0a"/>
<ellipse cx="463.9" cy="261.8" rx="2.90" ry="2.55" fill="#0a0a0a"/>
<ellipse cx="472.0" cy="250.0" rx="2.90" ry="2.55" fill="#0a0a0a"/>
<ellipse cx="480.1" cy="240.8" rx="2.90" ry="2.55" fill="#0a0a0a"/>
<ellipse cx="491.9" cy="228.7" rx="2.90" ry="2.55" fill="#0a0a0a"/>
<ellipse cx="500.1" cy="223.3" rx="2.90" ry="2.55" fill="#0a0a0a"/>
<ellipse cx="352.7" cy="337.2" rx="2.5" ry="2.35" fill="#fff" stroke="#0a0a0a" stroke-width="1.2"/>
<ellipse cx="361.0" cy="331.8" rx="2.5" ry="2.35" fill="#fff" stroke="#0a0a0a" stroke-width="1.2"/>
<ellipse cx="369.0" cy="327.7" rx="2.5" ry="2.35" fill="#fff" stroke="#0a0a0a" stroke-width="1.2"/>
<ellipse cx="380.9" cy="327.5" rx="2.5" ry="2.35" fill="#fff" stroke="#0a0a0a" stroke-width="1.2"/>
<ellipse cx="388.9" cy="322.2" rx="2.5" ry="2.35" fill="#fff" stroke="#0a0a0a" stroke-width="1.2"/>
<ellipse cx="396.5" cy="316.8" rx="2.5" ry="2.35" fill="#fff" stroke="#0a0a0a" stroke-width="1.2"/>
<ellipse cx="408.2" cy="313.5" rx="2.5" ry="2.35" fill="#fff" stroke="#0a0a0a" stroke-width="1.2"/>
<ellipse cx="416.3" cy="313.1" rx="2.5" ry="2.35" fill="#fff" stroke="#0a0a0a" stroke-width="1.2"/>
<ellipse cx="424.1" cy="307.7" rx="2.5" ry="2.35" fill="#fff" stroke="#0a0a0a" stroke-width="1.2"/>
<ellipse cx="436.0" cy="308.5" rx="2.5" ry="2.35" fill="#fff" stroke="#0a0a0a" stroke-width="1.2"/>
<ellipse cx="448.1" cy="300.7" rx="2.5" ry="2.35" fill="#fff" stroke="#0a0a0a" stroke-width="1.2"/>
<ellipse cx="463.8" cy="296.8" rx="2.5" ry="2.35" fill="#fff" stroke="#0a0a0a" stroke-width="1.2"/>
<ellipse cx="472.1" cy="287.5" rx="2.5" ry="2.35" fill="#fff" stroke="#0a0a0a" stroke-width="1.2"/>
<ellipse cx="480.1" cy="286.7" rx="2.5" ry="2.35" fill="#fff" stroke="#0a0a0a" stroke-width="1.2"/>
<ellipse cx="492.1" cy="282.5" rx="2.5" ry="2.35" fill="#fff" stroke="#0a0a0a" stroke-width="1.2"/>
<ellipse cx="500.0" cy="281.0" rx="2.5" ry="2.35" fill="#fff" stroke="#0a0a0a" stroke-width="1.2"/>
<path d="M91.2 116.4V139.3M87.2 132.8L91.2 139.3L95.2 132.8" stroke="#444" stroke-width="1.05" fill="none"/>
<path d="M352.4 116.0V139.7M348.4 133.6L352.4 139.7L356.4 133.6" stroke="#444" stroke-width="1.05" fill="none"/>
<path d="M71.4 318.3V341.7M67.7 335.6L71.4 341.7L75.3 335.6" stroke="#444" stroke-width="1.05" fill="none"/>
<path d="M377.5 268.4V292.2M373.3 285.2L377.5 292.2L381.9 285.2" stroke="#444" stroke-width="1.05" fill="none"/>
<text x="198.8" y="403.6" font-size="12.4" fill="#111">Days after tumor implantation</text>
<text transform="translate(10.1,247.6) rotate(-90)" font-size="12.5" fill="#111">Tumor volume (mm<tspan font-size="8" dy="-4">3</tspan><tspan dy="4">)</tspan></text>
</svg></body></html>
